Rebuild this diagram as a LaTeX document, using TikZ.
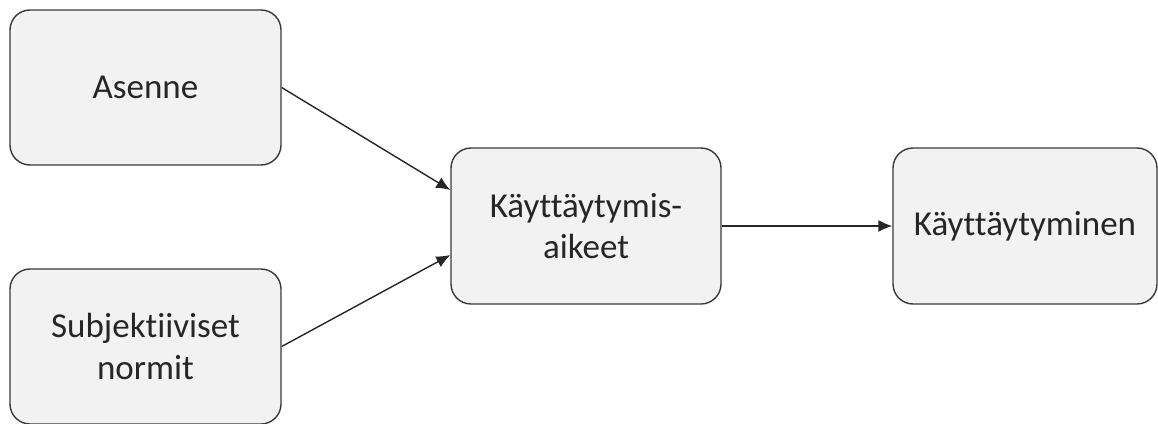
\documentclass[tikz,border=0pt]{standalone}
\usepackage{fontspec}
\setmainfont{Carlito}[RawFeature={-liga;-clig;-calt;-dlig}]
\usetikzlibrary{arrows.meta}
\definecolor{boxfill}{HTML}{F2F2F2}
\definecolor{boxline}{HTML}{3A3A3A}
\begin{document}
\begin{tikzpicture}[x=1pt,y=-1pt,
  stage/.style={draw=boxline, fill=boxfill, line width=1.4pt, rounded corners=20pt,
    inner sep=0pt, align=center, font=\fontsize{35}{41.5}\selectfont, text=black!85},
  link/.style={draw=black!85, line width=1.4pt, -{Latex[length=14pt,width=12pt]}}]
  \useasboundingbox (0,0) rectangle (1158,423);
  \node[stage, minimum width=271pt, minimum height=155pt] (att) at (145.5,87.5) {Asenne};
  \node[stage, minimum width=271pt, minimum height=155pt] (norm) at (145.5,346.5) {Subjektiiviset\\normit};
  \node[stage, minimum width=270pt, minimum height=156pt] (int) at (586,226) {Käyttäytymis-\\aikeet};
  \node[stage, minimum width=264pt, minimum height=156pt] (beh) at (1025,226) {Käyttäytyminen};
  \draw[link] (att.east) -- ([yshift=36pt]int.west);
  \draw[link] (norm.east) -- ([yshift=-29pt]int.west);
  \draw[link] (int.east) -- (beh.west);
\end{tikzpicture}
\end{document}
